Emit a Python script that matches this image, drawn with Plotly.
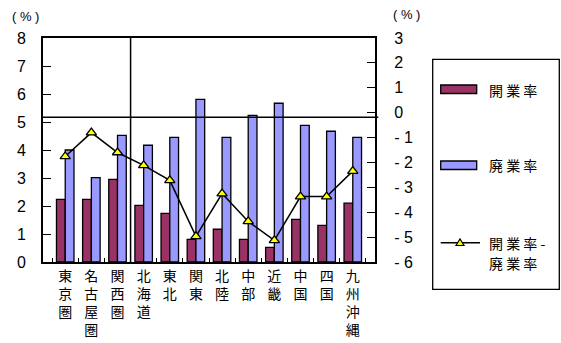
import plotly.graph_objects as go

categories = ["東<br>京<br>圏", "名<br>古<br>屋<br>圏", "関<br>西<br>圏", "北<br>海<br>道", "東<br>北",
              "関<br>東", "北<br>陸", "中<br>部", "近<br>畿", "中<br>国", "四<br>国", "九<br>州<br>沖<br>縄"]
kaigyo = [2.24, 2.24, 2.95, 2.02, 1.74, 0.81, 1.17, 0.81, 0.52, 1.52, 1.31, 2.10]
haigyo = [4.00, 3.01, 4.52, 4.17, 4.45, 5.81, 4.45, 5.24, 5.67, 4.88, 4.67, 4.45]
diff = [-1.76, -0.80, -1.60, -2.12, -2.72, -4.97, -3.25, -4.37, -5.13, -3.37, -3.37, -2.35]
left_ticks = [0, 1, 2, 3, 4, 5, 6, 7, 8]
right_ticks = [3, 2, 1, 0, -1, -2, -3, -4, -5, -6]
right_ticktext = [str(v) if v >= 0 else "- " + str(-v) for v in right_ticks]

NUM_FONT = "Liberation Sans, Arial, sans-serif"
JP_FONT = "Noto Sans CJK JP, sans-serif"

fig = go.Figure()
fig.add_trace(go.Bar(x=categories, y=kaigyo, name="開業率",
                     marker=dict(color="#993366", line=dict(color="black", width=1.3))))
fig.add_trace(go.Bar(x=categories, y=haigyo, name="廃業率",
                     marker=dict(color="#9999FF", line=dict(color="black", width=1.3))))
fig.add_trace(go.Scatter(x=categories, y=diff, yaxis="y2", mode="lines+markers",
                         name="開業率-廃業率",
                         line=dict(color="black", width=1.5),
                         marker=dict(symbol="triangle-up", size=9, color="#FFFF00",
                                     line=dict(color="black", width=1.3))))

fig.update_layout(
    width=561, height=343, autosize=False,
    margin=dict(l=43, r=186, t=38, b=81, autoexpand=False),
    paper_bgcolor="white", plot_bgcolor="white",
    showlegend=False,
    barmode="group", bargap=0.33, bargroupgap=0,
    xaxis=dict(type="category", showline=True, linecolor="black", linewidth=2, mirror=True,
               ticks="inside", ticklen=4, tickcolor="black", tickwidth=1.3,
               tickson="boundaries", showgrid=False, automargin=False,
               tickfont=dict(family=JP_FONT, size=14, color="black")),
    yaxis=dict(range=[0, 8], tickvals=left_ticks, showline=True, linecolor="black", linewidth=2,
               ticks="inside", ticklen=8, tickcolor="black", tickwidth=1.3, showgrid=False,
               zeroline=False, ticklabelstandoff=12, automargin=False,
               tickfont=dict(family=NUM_FONT, size=16, color="black")),
    yaxis2=dict(range=[-6, 3], overlaying="y", side="right", tickvals=right_ticks,
                ticktext=right_ticktext, showline=True, linecolor="black", linewidth=2,
                ticks="inside", ticklen=8, tickcolor="black", tickwidth=1.3, showgrid=False,
                zeroline=False, ticklabelstandoff=14, automargin=False,
                tickfont=dict(family=NUM_FONT, size=16, color="black")),
)

# separator lines
fig.add_shape(type="line", xref="x", yref="paper", x0=2.5, x1=2.5, y0=0, y1=1,
              line=dict(color="black", width=1.5))
fig.add_shape(type="line", xref="paper", yref="y", x0=0, x1=1.01, y0=5.17, y1=5.17,
              line=dict(color="black", width=1.5))

# unit labels
fig.add_annotation(text="( % )", xref="paper", yref="paper", x=-0.054, y=1.098,
                   xanchor="center", yanchor="middle",
                   showarrow=False, font=dict(family=NUM_FONT, size=13, color="black"))
fig.add_annotation(text="( % )", xref="paper", yref="paper", x=1.095, y=1.103,
                   xanchor="center", yanchor="middle",
                   showarrow=False, font=dict(family=NUM_FONT, size=13, color="black"))

# custom legend
def px(xp):
    return (xp - 43) / 332

def py(yp):
    return (262 - yp) / 224

fig.add_shape(type="rect", xref="paper", yref="paper", x0=px(432.7), x1=px(559.3),
              y0=py(289.3), y1=py(59.3), line=dict(color="black", width=1.3), fillcolor="white")
fig.add_shape(type="rect", xref="paper", yref="paper", x0=px(440.7), x1=px(476.7),
              y0=py(93.5), y1=py(85), line=dict(color="black", width=1.3), fillcolor="#993366")
fig.add_shape(type="rect", xref="paper", yref="paper", x0=px(440.7), x1=px(476.7),
              y0=py(169.5), y1=py(161), line=dict(color="black", width=1.3), fillcolor="#9999FF")
fig.add_shape(type="line", xref="paper", yref="paper", x0=px(440.7), x1=px(480),
              y0=py(242.7), y1=py(242.7), line=dict(color="black", width=1.5))
tri = "M {} {} L {} {} L {} {} Z".format(px(456), py(245.5), px(464), py(245.5), px(460), py(239))
fig.add_shape(type="path", xref="paper", yref="paper", path=tri,
              fillcolor="#FFFF00", line=dict(color="black", width=1.2))

legend_font = dict(family=JP_FONT, size=14, color="black")
for txt, yy in [("開 業 率", 89.5), ("廃 業 率", 165), ("開 業 率 -", 243), ("廃 業 率", 263.3)]:
    fig.add_annotation(text=txt, xref="paper", yref="paper", x=px(486.7), y=py(yy),
                       xanchor="left", yanchor="middle", showarrow=False, font=legend_font)

fig.write_html("out.html",
               config={"responsive": False, "displayModeBar": False},
               post_script="document.body.style.margin='0';document.body.style.overflow='hidden';")
